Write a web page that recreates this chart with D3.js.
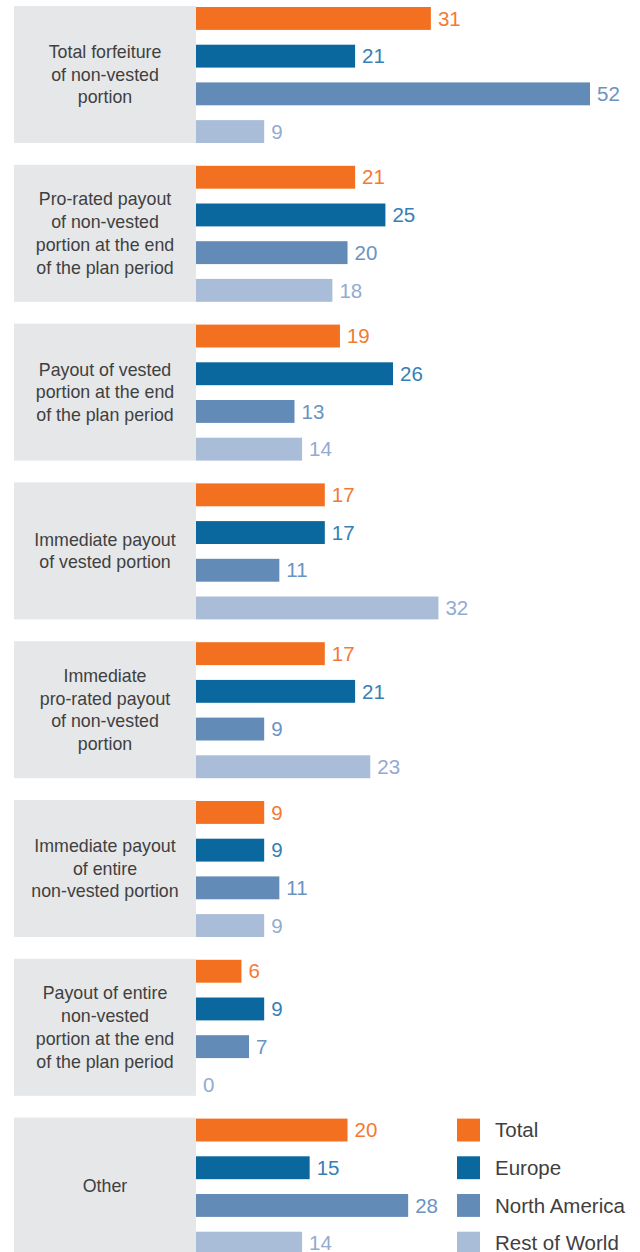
<!DOCTYPE html>
<html>
<head>
<meta charset="utf-8">
<script src="https://cdn.jsdelivr.net/npm/d3@7"></script>
<style>
  html, body { margin: 0; padding: 0; background: #ffffff; }
  svg { display: block; }
  text { font-family: "Liberation Sans", Arial, sans-serif; }
</style>
</head>
<body>
<svg id="chart" width="640" height="1252"></svg>
<script>
// Termination treatment categories (one grey panel each), lines split for wrapping
const categories = [
  ["Total forfeiture", "of non-vested", "portion"],
  ["Pro-rated payout", "of non-vested", "portion at the end", "of the plan period"],
  ["Payout of vested", "portion at the end", "of the plan period"],
  ["Immediate payout", "of vested portion"],
  ["Immediate", "pro-rated payout", "of non-vested", "portion"],
  ["Immediate payout", "of entire", "non-vested portion"],
  ["Payout of entire", "non-vested", "portion at the end", "of the plan period"],
  ["Other"]
];

const seriesNames = ["Total", "Europe", "North America", "Rest of World"];

// Percentages per region, in category order
const totalValues        = [31, 21, 19, 17, 17, 9, 6, 20];
const europeValues       = [21, 25, 26, 17, 21, 9, 9, 15];
const northAmericaValues = [52, 20, 13, 11, 9, 11, 7, 28];
const restOfWorldValues  = [9, 18, 14, 32, 23, 9, 0, 14];

const seriesValues = [totalValues, europeValues, northAmericaValues, restOfWorldValues];

const barColors   = ["#f37021", "#0b689e", "#628bb7", "#a9bdd9"];
const labelColors = ["#f47a33", "#3580b4", "#6b93c2", "#93abd0"];

const svg = d3.select("#chart");

const catKeys = categories.map((c, i) => "c" + i);

// Outer band: one panel per category
const y0 = d3.scaleBand()
  .domain(catKeys)
  .range([6, 6 + 7 * 158.8 + 137])
  .paddingInner((158.8 - 137) / 158.8)
  .paddingOuter(0);

// Inner band: one bar per region inside a panel
const y1 = d3.scaleBand()
  .domain(seriesNames)
  .range([1, y0.bandwidth()])
  .paddingInner(0.393)
  .paddingOuter(0);

const x = d3.scaleLinear()
  .domain([0, d3.max(northAmericaValues)])
  .range([196, 590]);

const panelLeft = 14;

const groups = svg.selectAll("g.cat")
  .data(categories)
  .join("g")
  .attr("class", "cat")
  .attr("transform", (d, i) => `translate(0,${y0(catKeys[i])})`);

// Grey label panel
groups.append("rect")
  .attr("x", panelLeft)
  .attr("y", 0)
  .attr("width", x(0) - panelLeft)
  .attr("height", y0.bandwidth())
  .attr("fill", "#e6e7e9");

// Category label, vertically centred in the panel
const lineH = 22.7;
groups.append("text")
  .attr("text-anchor", "middle")
  .attr("fill", "#404040")
  .attr("font-size", 17.8)
  .each(function(lines) {
    const t = d3.select(this);
    const mid = y0.bandwidth() / 2;
    const first = mid - (lines.length - 1) * lineH / 2;
    lines.forEach((ln, k) => {
      t.append("tspan")
        .attr("x", (panelLeft + x(0)) / 2)
        .attr("y", first + k * lineH)
        .attr("dy", "0.35em")
        .text(ln);
    });
  });

// Bars and value labels
groups.each(function(cat, ci) {
  const g = d3.select(this);
  const rows = seriesNames.map((s, si) => ({ s, si, v: seriesValues[si][ci] }));

  g.selectAll("rect.bar")
    .data(rows)
    .join("rect")
    .attr("class", "bar")
    .attr("x", x(0))
    .attr("y", d => y1(d.s))
    .attr("width", d => x(d.v) - x(0))
    .attr("height", y1.bandwidth())
    .attr("fill", d => barColors[d.si]);

  g.selectAll("text.val")
    .data(rows)
    .join("text")
    .attr("class", "val")
    .attr("x", d => x(d.v) + 7)
    .attr("y", d => y1(d.s) + y1.bandwidth() / 2)
    .attr("dy", "0.35em")
    .attr("font-size", 20.5)
    .attr("fill", d => labelColors[d.si])
    .text(d => d.v);
});

// Legend, aligned with the bars of the last panel
const lastTop = y0(catKeys[catKeys.length - 1]);
const legend = svg.append("g")
  .attr("transform", `translate(457,${lastTop})`);

const items = legend.selectAll("g.item")
  .data(seriesNames)
  .join("g")
  .attr("class", "item")
  .attr("transform", d => `translate(0,${y1(d)})`);

items.append("rect")
  .attr("width", 23)
  .attr("height", y1.bandwidth())
  .attr("fill", (d, i) => barColors[i]);

items.append("text")
  .attr("x", 38)
  .attr("y", y1.bandwidth() / 2)
  .attr("dy", "0.35em")
  .attr("font-size", 20.5)
  .attr("fill", "#404040")
  .text(d => d);
</script>
</body>
</html>
